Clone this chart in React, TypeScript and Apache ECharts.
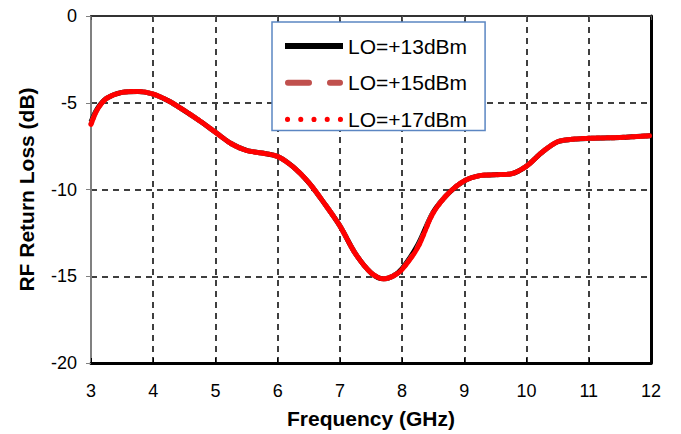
import React, { useEffect, useRef } from "react";
import * as echarts from "echarts";

const freqGHz = [3.0, 3.1, 3.25, 3.5, 3.75, 4.0, 4.25, 4.5, 4.75, 5.0, 5.25, 5.5, 5.75, 6.0, 6.25, 6.5, 6.75, 7.0, 7.25, 7.5, 7.7, 7.85, 8.0, 8.25, 8.5, 8.75, 9.0, 9.25, 9.5, 9.75, 10.0, 10.25, 10.5, 10.75, 11.0, 11.5, 12.0];
const lo13 = [-6.1, -5.35, -4.75, -4.4, -4.35, -4.5, -4.9, -5.45, -6.05, -6.7, -7.35, -7.75, -7.9, -8.1, -8.7, -9.6, -10.8, -12.1, -13.7, -14.8, -15.15, -15.0, -14.55, -13.2, -11.3, -10.2, -9.5, -9.2, -9.15, -9.1, -8.65, -7.85, -7.25, -7.1, -7.05, -7.0, -6.9];
const lo15 = [-6.2, -5.4, -4.75, -4.4, -4.35, -4.5, -4.9, -5.45, -6.05, -6.7, -7.35, -7.75, -7.9, -8.1, -8.7, -9.6, -10.8, -12.1, -13.7, -14.8, -15.15, -15.0, -14.6, -13.3, -11.3, -10.2, -9.5, -9.2, -9.15, -9.1, -8.65, -7.85, -7.25, -7.1, -7.05, -7.0, -6.9];
const lo17 = [-6.25, -5.4, -4.75, -4.4, -4.35, -4.5, -4.9, -5.45, -6.05, -6.7, -7.35, -7.75, -7.9, -8.1, -8.7, -9.6, -10.8, -12.1, -13.7, -14.8, -15.15, -15.0, -14.6, -13.35, -11.35, -10.2, -9.5, -9.2, -9.15, -9.1, -8.65, -7.85, -7.25, -7.1, -7.05, -7.0, -6.9];
const seriesNames = ["LO=+13dBm", "LO=+15dBm", "LO=+17dBm"];

const toPairs = (ys: number[]) => freqGHz.map((x, i) => [x, ys[i]]);

const iconSolid = "path://M0,0H58V6H0Z";
const iconDashed =
  "path://M3,0H24A3,3 0 0 1 24,6H3A3,3 0 0 1 3,0Z M45,0H55A3,3 0 0 1 55,6H45A3,3 0 0 1 45,0Z M0,3H0.01 M58,3H57.99";
const dotAt = (cx: number) => `M${cx - 2.5},3A2.5,2.5 0 1 0 ${cx + 2.5},3A2.5,2.5 0 1 0 ${cx - 2.5},3Z`;
const iconDots = "path://" + [3, 16, 29, 42, 55].map(dotAt).join(" ");

export default function App() {
  const ref = useRef<HTMLDivElement>(null);
  useEffect(() => {
    if (!ref.current) return;
    const chart = echarts.init(ref.current, undefined, { renderer: "svg" });
    const font = "Arial, 'Liberation Sans', sans-serif";
    const gridLine = { show: true, lineStyle: { color: "#000", type: [6, 5] as any, width: 1.5 } };
    chart.setOption({
      animation: false,
      backgroundColor: "#fff",
      textStyle: { fontFamily: font },
      grid: { left: 91, top: 16, right: 30, bottom: 68, containLabel: false },
      legend: {
        orient: "vertical",
        left: 272,
        top: 22,
        backgroundColor: "#fff",
        borderColor: "#5B86C2",
        borderWidth: 1.5,
        borderRadius: 0,
        padding: [13, 18, 0, 13],
        itemWidth: 58,
        itemHeight: 6,
        itemGap: 14.7,
        symbolKeepAspect: true,
        textStyle: { fontSize: 21, lineHeight: 22, color: "#000", fontFamily: font },
        data: [
          { name: seriesNames[0], icon: iconSolid, itemStyle: { color: "#000" } },
          { name: seriesNames[1], icon: iconDashed, itemStyle: { color: "#C0504D" } },
          { name: seriesNames[2], icon: iconDots, itemStyle: { color: "#FF0000" } },
        ],
      },
      xAxis: [
        {
          type: "value",
          min: 3,
          max: 12,
          interval: 1,
          position: "bottom",
          axisLine: { show: true, onZero: false, lineStyle: { color: "#000", width: 3 } },
          axisTick: { show: true, inside: true, length: 5, lineStyle: { color: "#000", width: 1 } },
          axisLabel: { fontSize: 18, color: "#000", margin: 19, fontFamily: font },
          splitLine: gridLine,
          name: "Frequency (GHz)",
          nameLocation: "middle",
          nameGap: 45,
          nameTextStyle: { fontSize: 21, fontWeight: "bold", color: "#000", fontFamily: font },
        },
        {
          type: "value",
          min: 3,
          max: 12,
          interval: 1,
          position: "top",
          axisLine: { show: true, onZero: false, lineStyle: { color: "#333", width: 2 } },
          axisTick: { show: true, inside: true, length: 4, lineStyle: { color: "#555", width: 1 } },
          axisLabel: { show: false },
          splitLine: { show: false },
        },
      ],
      yAxis: [
        {
          type: "value",
          min: -20,
          max: 0,
          interval: 5,
          position: "left",
          axisLine: { show: true, onZero: false, lineStyle: { color: "#808080", width: 2 } },
          axisTick: { show: true, inside: false, length: 5, lineStyle: { color: "#808080", width: 1 } },
          axisLabel: { fontSize: 18, color: "#000", margin: 14, fontFamily: font },
          splitLine: gridLine,
          name: "RF Return Loss (dB)",
          nameLocation: "middle",
          nameGap: 54,
          nameTextStyle: { fontSize: 21, fontWeight: "bold", color: "#000", fontFamily: font },
        },
        {
          type: "value",
          min: -20,
          max: 0,
          interval: 5,
          position: "right",
          axisLine: { show: true, onZero: false, lineStyle: { color: "#000", width: 3 } },
          axisTick: { show: false },
          axisLabel: { show: false },
          splitLine: { show: false },
        },
      ],
      series: [
        {
          name: seriesNames[0],
          type: "line",
          data: toPairs(lo13),
          smooth: 0.3,
          showSymbol: false,
          symbol: "none",
          lineStyle: { color: "#000", width: 5 },
          itemStyle: { color: "#000" },
          z: 2,
        },
        {
          name: seriesNames[1],
          type: "line",
          data: toPairs(lo15),
          smooth: 0.3,
          showSymbol: false,
          symbol: "none",
          lineStyle: { color: "#C0504D", width: 5, type: [14, 10] as any, cap: "round" },
          itemStyle: { color: "#C0504D" },
          z: 3,
        },
        {
          name: seriesNames[2],
          type: "line",
          data: toPairs(lo17),
          smooth: 0.3,
          showSymbol: false,
          symbol: "none",
          lineStyle: { color: "#FF0000", width: 5, type: [3, 2] as any, cap: "round" },
          itemStyle: { color: "#FF0000" },
          z: 4,
        },
      ],
    });
    return () => chart.dispose();
  }, []);
  return <div ref={ref} style={{ width: 681, height: 434, position: "absolute", left: 0, top: 0 }} />;
}
